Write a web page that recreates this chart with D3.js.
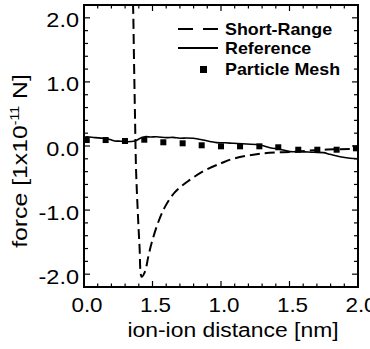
<!DOCTYPE html>
<html><head><meta charset="utf-8">
<script src="https://cdn.jsdelivr.net/npm/d3@7/dist/d3.min.js"></script>
<style>body{margin:0;background:#fff}svg{display:block}text{font-family:"Liberation Sans",Arial,sans-serif;fill:#000}</style>
</head><body><svg id="c" width="370" height="349"></svg>
<script>
// ---- data ----
const xTickValues = [0, 0.5, 1.0, 1.5, 2.0];
const xTickLabels = ["0.0", "1.5", "1.0", "1.5", "2.0"];
const yTickValues = [-2, -1, 0, 1, 2];
const yTickLabels = ["-2.0", "-1.0", "0.0", "1.0", "2.0"];
const seriesNames = ["Short-Range", "Reference", "Particle Mesh"];

const shortRangeX = [0.352, 0.358, 0.365, 0.372, 0.380, 0.392, 0.405, 0.421, 0.445, 0.470, 0.494, 0.540, 0.591, 0.664, 0.759, 0.883, 1.0, 1.088, 1.285, 1.526, 1.774, 2.0];
const shortRangeY = [2.45, 2.2, 1.34, 0.5, -0.37, -1.0, -1.55, -2.04, -1.96, -1.72, -1.51, -1.20, -0.95, -0.72, -0.55, -0.38, -0.27, -0.20, -0.12, -0.09, -0.055, -0.045];

const referenceX = [0.0, 0.02, 0.08, 0.14, 0.19, 0.226, 0.27, 0.311, 0.372, 0.41, 0.445, 0.49, 0.53, 0.603, 0.65, 0.701, 0.75, 0.798, 0.87, 0.92, 0.968, 1.03, 1.09, 1.187, 1.285, 1.358, 1.431, 1.504, 1.577, 1.674, 1.747, 1.796, 1.869, 1.942, 2.0];
const referenceY = [0.13, 0.145, 0.13, 0.12, 0.10, 0.078, 0.075, 0.067, 0.078, 0.12, 0.145, 0.14, 0.145, 0.13, 0.135, 0.12, 0.125, 0.12, 0.093, 0.07, 0.052, 0.05, 0.042, 0.031, 0.016, -0.026, -0.05, -0.088, -0.088, -0.098, -0.104, -0.13, -0.167, -0.19, -0.2];

const meshX = [0.02, 0.158, 0.299, 0.44, 0.579, 0.72, 0.859, 1.0, 1.139, 1.28, 1.418, 1.564, 1.703, 1.844, 1.985];
const meshY = [0.093, 0.093, 0.078, 0.098, 0.058, 0.042, 0.011, -0.005, -0.005, -0.005, -0.02, -0.058, -0.058, -0.058, -0.036];

// ---- layout ----
const L = 84, R = 358, T = 5, B = 287;
const svg = d3.select("#c");
const x = d3.scaleLinear().domain([0, 2]).range([L, R]);
const y = d3.scaleLinear().domain([-2.2, 2.2]).range([B, T]);
const SX = 1.12;

svg.append("defs").append("clipPath").attr("id", "clip")
  .append("rect").attr("x", L).attr("y", T).attr("width", R - L).attr("height", B - T);

// ticks (inward, all four sides)
const xMinor = d3.range(0, 2.0001, 0.1);
const yMinor = d3.range(-2.2, 2.2001, 0.2);
const isMajorX = v => Math.abs(v * 2 - Math.round(v * 2)) < 1e-6;
const isMajorY = v => Math.abs(v - Math.round(v)) < 1e-6;
const tg = svg.append("g").attr("stroke", "#000").attr("stroke-width", 1.2);
xMinor.forEach(v => {
  const len = isMajorX(v) ? 6 : 3.5;
  tg.append("line").attr("x1", x(v)).attr("x2", x(v)).attr("y1", B).attr("y2", B - len);
  tg.append("line").attr("x1", x(v)).attr("x2", x(v)).attr("y1", T).attr("y2", T + len);
});
yMinor.forEach(v => {
  const len = isMajorY(v) ? 6 : 4;
  tg.append("line").attr("y1", y(v)).attr("y2", y(v)).attr("x1", L).attr("x2", L + len);
  tg.append("line").attr("y1", y(v)).attr("y2", y(v)).attr("x1", R).attr("x2", R - len);
});

// frame
svg.append("rect").attr("x", L).attr("y", T).attr("width", R - L).attr("height", B - T)
  .attr("fill", "none").attr("stroke", "#000").attr("stroke-width", 2);

// tick labels
xTickValues.forEach((v, i) => {
  svg.append("g").attr("transform", `translate(${x(v) + 3},312) scale(${SX},1)`)
    .append("text").attr("text-anchor", "middle").attr("font-size", 20).text(xTickLabels[i]);
});
yTickValues.forEach((v, i) => {
  svg.append("g").attr("transform", `translate(79,${y(v) + 9.5}) scale(${SX},1)`)
    .append("text").attr("text-anchor", "end").attr("font-size", 21).text(yTickLabels[i]);
});

// axis titles
svg.append("g").attr("transform", `translate(233,337) scale(1.09,1)`)
  .append("text").attr("text-anchor", "middle").attr("font-size", 21).text("ion-ion distance [nm]");
const yl = svg.append("g").attr("transform", `translate(27,161) rotate(-90) scale(1.18,1)`)
  .append("text").attr("text-anchor", "middle").attr("font-size", 21);
yl.append("tspan").text("force [1x10");
yl.append("tspan").attr("font-size", 12).attr("dy", -8).text("-11");
yl.append("tspan").attr("dy", 8).text(" N]");

// series
const plot = svg.append("g").attr("clip-path", "url(#clip)");
const srData = shortRangeX.map((d, i) => [d, shortRangeY[i]]);
const refData = referenceX.map((d, i) => [d, referenceY[i]]);
const meshData = meshX.map((d, i) => [d, meshY[i]]);

plot.append("path").datum(refData)
  .attr("d", d3.line().x(d => x(d[0])).y(d => y(d[1])).curve(d3.curveCatmullRom))
  .attr("fill", "none").attr("stroke", "#000").attr("stroke-width", 1.6);
plot.append("path").datum(srData)
  .attr("d", d3.line().x(d => x(d[0])).y(d => y(d[1])).curve(d3.curveCatmullRom))
  .attr("fill", "none").attr("stroke", "#000").attr("stroke-width", 2).attr("stroke-dasharray", "10,5");
plot.selectAll("rect.pm").data(meshData).enter().append("rect").attr("class", "pm")
  .attr("x", d => x(d[0]) - 3).attr("y", d => y(d[1]) - 3).attr("width", 6).attr("height", 6).attr("fill", "#000");

// legend
const lg = svg.append("g");
lg.append("line").attr("x1", 178).attr("x2", 218).attr("y1", 29).attr("y2", 29)
  .attr("stroke", "#000").attr("stroke-width", 2).attr("stroke-dasharray", "15,10");
lg.append("line").attr("x1", 178).attr("x2", 218).attr("y1", 48).attr("y2", 48)
  .attr("stroke", "#000").attr("stroke-width", 2);
lg.append("rect").attr("x", 200).attr("y", 66).attr("width", 7).attr("height", 7).attr("fill", "#000");
[35, 54, 75].forEach((by, i) => {
  lg.append("g").attr("transform", `translate(225,${by}) scale(1.05,1)`)
    .append("text").attr("font-size", 17).attr("font-weight", "bold").text(seriesNames[i]);
});
</script></body></html>
